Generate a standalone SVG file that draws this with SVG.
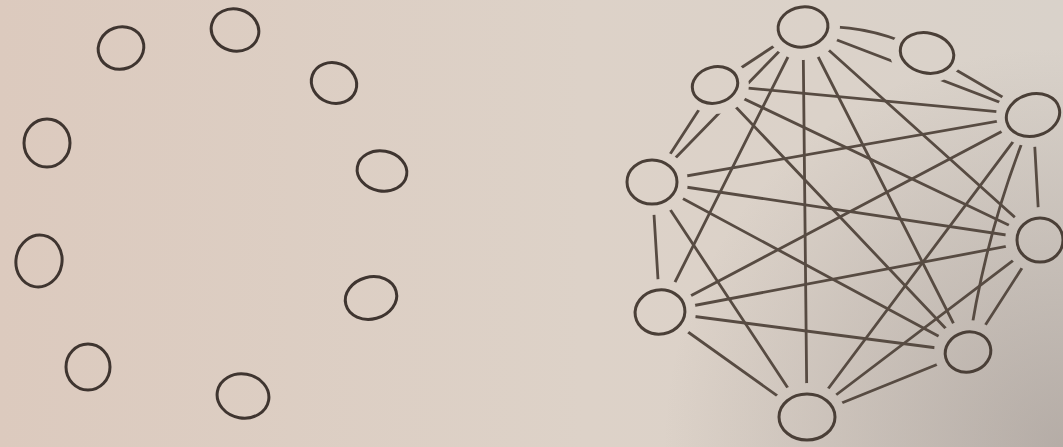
<svg xmlns="http://www.w3.org/2000/svg" width="1063" height="447" viewBox="0 0 1063 447">
<defs>
<linearGradient id="bg" x1="0" y1="0" x2="1" y2="0">
<stop offset="0" stop-color="#dccabe"/>
<stop offset="0.55" stop-color="#ddd2c8"/>
<stop offset="1" stop-color="#d9d2ca"/>
</linearGradient>
<radialGradient id="shade" cx="1063" cy="447" r="400" gradientUnits="userSpaceOnUse">
<stop offset="0" stop-color="#7a6f6c" stop-opacity="0.38"/>
<stop offset="1" stop-color="#7a6f6c" stop-opacity="0"/>
</radialGradient>
<mask id="gap" maskUnits="userSpaceOnUse" x="0" y="0" width="1063" height="447">
<rect width="1063" height="447" fill="#fff"/>
<g fill="#000">
<ellipse cx="803" cy="27" rx="37" ry="33"/>
<ellipse cx="927" cy="53" rx="37" ry="30"/>
<ellipse cx="715" cy="85" rx="34" ry="29"/>
<ellipse cx="1033" cy="115" rx="37" ry="32"/>
<ellipse cx="652" cy="182" rx="36" ry="33"/>
<ellipse cx="1040" cy="240" rx="35" ry="33"/>
<ellipse cx="660" cy="312" rx="36" ry="33"/>
<ellipse cx="968" cy="352" rx="34" ry="32"/>
<ellipse cx="807" cy="417" rx="39" ry="34"/>
</g>
</mask>
</defs>
<style>
.n{fill:none;stroke:#3f3530;stroke-width:3}
.m{fill:none;stroke:#4a3f37;stroke-width:3}
.e{fill:none;stroke:#574b42;stroke-width:2.8;stroke-linecap:round}
</style>
<rect width="1063" height="447" fill="url(#bg)"/>
<rect width="1063" height="447" fill="url(#shade)"/>

<g id="ring-1"><ellipse class="n" cx="121" cy="48" rx="23" ry="21" transform="rotate(-20 121 48)"/></g>
<g id="ring-2"><ellipse class="n" cx="235" cy="30" rx="24" ry="21" transform="rotate(15 235 30)"/></g>
<g id="ring-3"><ellipse class="n" cx="334" cy="83" rx="23" ry="20" transform="rotate(20 334 83)"/></g>
<g id="ring-4"><ellipse class="n" cx="47" cy="143" rx="23" ry="24"/></g>
<g id="ring-5"><ellipse class="n" cx="382" cy="171" rx="25" ry="20" transform="rotate(10 382 171)"/></g>
<g id="ring-6"><ellipse class="n" cx="39" cy="261" rx="23" ry="26" transform="rotate(10 39 261)"/></g>
<g id="ring-7"><ellipse class="n" cx="371" cy="298" rx="26" ry="21" transform="rotate(-15 371 298)"/></g>
<g id="ring-8"><ellipse class="n" cx="88" cy="367" rx="22" ry="23"/></g>
<g id="ring-9"><ellipse class="n" cx="243" cy="396" rx="26" ry="22" transform="rotate(10 243 396)"/></g>

<g id="connectors" mask="url(#gap)">
<path class="e" d="M803 27 Q870 22 927 53"/>
<line class="e" x1="927" y1="53" x2="1033" y2="115"/>
<line class="e" x1="803" y1="27" x2="715" y2="85"/>
<line class="e" x1="803" y1="27" x2="1033" y2="115"/>
<line class="e" x1="803" y1="27" x2="652" y2="182"/>
<line class="e" x1="803" y1="27" x2="1040" y2="240"/>
<line class="e" x1="803" y1="27" x2="660" y2="312"/>
<line class="e" x1="803" y1="27" x2="968" y2="352"/>
<line class="e" x1="803" y1="27" x2="807" y2="417"/>
<line class="e" x1="715" y1="85" x2="1033" y2="115"/>
<line class="e" x1="715" y1="85" x2="652" y2="182"/>
<line class="e" x1="715" y1="85" x2="1040" y2="240"/>
<line class="e" x1="715" y1="85" x2="968" y2="352"/>
<line class="e" x1="1033" y1="115" x2="652" y2="182"/>
<line class="e" x1="1033" y1="115" x2="1040" y2="240"/>
<line class="e" x1="1033" y1="115" x2="660" y2="312"/>
<path class="e" d="M1033 115 Q985 230 968 352"/>
<line class="e" x1="1033" y1="115" x2="807" y2="417"/>
<line class="e" x1="652" y1="182" x2="1040" y2="240"/>
<line class="e" x1="652" y1="182" x2="660" y2="312"/>
<line class="e" x1="652" y1="182" x2="968" y2="352"/>
<line class="e" x1="652" y1="182" x2="807" y2="417"/>
<line class="e" x1="1040" y1="240" x2="660" y2="312"/>
<line class="e" x1="1040" y1="240" x2="968" y2="352"/>
<line class="e" x1="1040" y1="240" x2="807" y2="417"/>
<line class="e" x1="660" y1="312" x2="968" y2="352"/>
<line class="e" x1="660" y1="312" x2="807" y2="417"/>
<line class="e" x1="968" y1="352" x2="807" y2="417"/>
</g>

<g id="mesh-a"><ellipse class="m" cx="803" cy="27" rx="25" ry="20" transform="rotate(-8 803 27)"/></g>
<g id="mesh-b"><ellipse class="m" cx="927" cy="53" rx="27" ry="20" transform="rotate(12 927 53)"/></g>
<g id="mesh-c"><ellipse class="m" cx="715" cy="85" rx="23" ry="18" transform="rotate(-15 715 85)"/></g>
<g id="mesh-d"><ellipse class="m" cx="1033" cy="115" rx="27" ry="21" transform="rotate(-15 1033 115)"/></g>
<g id="mesh-e"><ellipse class="m" cx="652" cy="182" rx="25" ry="22"/></g>
<g id="mesh-f"><ellipse class="m" cx="1040" cy="240" rx="23" ry="22"/></g>
<g id="mesh-g"><ellipse class="m" cx="660" cy="312" rx="25" ry="22" transform="rotate(-10 660 312)"/></g>
<g id="mesh-h"><ellipse class="m" cx="968" cy="352" rx="23" ry="20" transform="rotate(-15 968 352)"/></g>
<g id="mesh-i"><ellipse class="m" cx="807" cy="417" rx="28" ry="23"/></g>
</svg>
